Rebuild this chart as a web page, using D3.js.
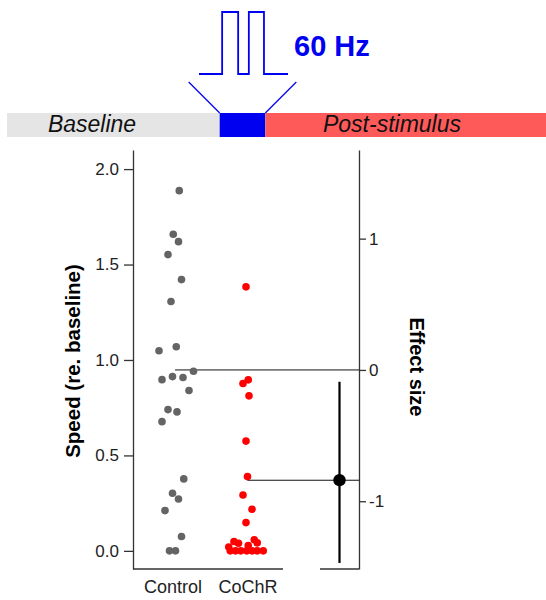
<!DOCTYPE html>
<meta charset="utf-8">
<style>
  body { margin: 0; background: #fff; }
  svg text { font-family: "Liberation Sans", Arial, sans-serif; }
</style>
<script src="https://cdn.jsdelivr.net/npm/d3@7"></script>
<div id="chart"></div>
<script>
// ---- data ----
var groups = ["Control", "CoChR"];

var controlSpeed  = [1.887, 1.659, 1.620, 1.552, 1.421, 1.306, 1.048, 1.069, 0.941, 0.897, 0.913, 0.908,
                     0.840, 0.740, 0.728, 0.677, 0.377, 0.302, 0.272, 0.211, 0.075, 0, 0];
var controlJitter = [0.09, 0.01, 0.08, -0.06, 0.12, -0.02, -0.18, 0.05, 0.28, -0.14, 0.00, 0.14,
                     0.22, -0.06, 0.06, -0.14, 0.15, 0.00, 0.08, -0.10, 0.12, -0.04, 0.04];

var cochrSpeed  = [1.383, 0.896, 0.877, 0.812, 0.575, 0.389, 0.293, 0.218, 0.148,
                   0.058, 0.049, 0.042, 0.040, 0.028, 0.020, 0, 0, 0, 0, 0, 0, 0];
var cochrJitter = [-0.02, 0.01, -0.06, 0.02, -0.02, 0.00, -0.06, 0.06, -0.02,
                   0.09, -0.18, 0.13, -0.12, 0.01, -0.25, -0.23, -0.16, -0.09, -0.01, 0.06, 0.13, 0.21];

var speedTicks  = [0, 0.5, 1.0, 1.5, 2.0];
var effectTicks = [1, 0, -1];

var controlLevel = 0.948;          // speed level that sits at effect size 0
var effectSize   = -0.84;
var effectCI     = [-1.47, -0.09];

var phaseNames  = ["Baseline", "", "Post-stimulus"];
var phaseBounds = [-4.66, 0, 1, 7.15];   // in stimulus lengths
var phaseColors = ["#e5e5e5", "#0000f0", "#ff5a5a"];
var pulses = [[0.26, 0.44], [0.56, 0.73]];

var W = 546, H = 600;
var svg = d3.select("#chart").append("svg")
    .attr("width", W).attr("height", H);

// ---- scales ----
var y = d3.scaleLinear().domain([-0.095, 2.1]).range([569, 150]);
var e = d3.scaleLinear().domain([-1.516, 1.675]).range([569, 150]);
var x = d3.scalePoint().domain(groups).range([135, 285]).padding(0.5);
var xr = d3.scalePoint().domain(["CoChR - Control"]).range([320, 359]).padding(0.5);
var t = d3.scaleLinear().domain([phaseBounds[0], phaseBounds[3]]).range([7, 546]);
var pt = d3.scaleLinear().domain([0, 1]).range([199, 288]);
var py = d3.scaleLinear().domain([0, 1]).range([74, 12]);

// ---- stimulus header ----
var phases = phaseNames.map(function(n, i) {
  return {name: n, a: phaseBounds[i], b: phaseBounds[i + 1], color: phaseColors[i]};
});
svg.selectAll("rect.phase").data(phases).enter().append("rect")
    .attr("class", "phase")
    .attr("x", function(d) { return t(d.a); })
    .attr("width", function(d) { return t(d.b) - t(d.a); })
    .attr("y", 113).attr("height", 24)
    .attr("fill", function(d) { return d.color; });
svg.selectAll("text.phase").data(phases.filter(function(d) { return d.name; })).enter().append("text")
    .attr("class", "phase")
    .attr("x", function(d, i) { return i == 0 ? 92 : 392; })
    .attr("y", 132)
    .attr("text-anchor", "middle")
    .style("font-size", "23px").style("font-style", "italic")
    .attr("fill", "#111")
    .text(function(d) { return d.name; });

// pulse train
var pulsePts = [[0, 0]];
pulses.forEach(function(p) {
  pulsePts.push([p[0], 0], [p[0], 1], [p[1], 1], [p[1], 0]);
});
pulsePts.push([1, 0]);
svg.append("path")
    .attr("d", d3.line().x(function(d) { return pt(d[0]); }).y(function(d) { return py(d[1]); })(pulsePts))
    .attr("fill", "none").attr("stroke", "#0000f0").attr("stroke-width", 1.8);

// funnel lines
[[t(0) - 31, t(0)], [t(1) + 31, t(1)]].forEach(function(s) {
  svg.append("line")
      .attr("x1", s[0]).attr("y1", 82).attr("x2", s[1]).attr("y2", 113)
      .attr("stroke", "#0000f0").attr("stroke-width", 1.3);
});

svg.append("text")
    .attr("x", 294).attr("y", 56)
    .style("font-size", "29px").style("font-weight", "bold")
    .attr("fill", "#0000f0")
    .text("60 Hz");

// ---- left axis (speed) ----
var yAxis = svg.append("g")
    .attr("transform", "translate(133,0)")
    .call(d3.axisLeft(y).tickValues(speedTicks).tickFormat(d3.format(".1f"))
      .tickSize(9).tickPadding(5).tickSizeOuter(0));
yAxis.selectAll("text").style("font-size", "17px").attr("fill", "#222");
yAxis.selectAll("line, path").attr("stroke", "#333").attr("stroke-width", 1.3);

svg.append("line")
    .attr("x1", 133).attr("x2", 283).attr("y1", 569).attr("y2", 569)
    .attr("stroke", "#333").attr("stroke-width", 1.3);

var xAxis = svg.append("g")
    .attr("transform", "translate(0,569)")
    .call(d3.axisBottom(x).tickSize(0).tickPadding(11));
xAxis.select(".domain").remove();
xAxis.selectAll("text").style("font-size", "18px").attr("fill", "#222");

svg.append("text")
    .attr("transform", "translate(80,361) rotate(-90)")
    .attr("text-anchor", "middle")
    .style("font-size", "20.5px").style("font-weight", "bold")
    .text("Speed (re. baseline)");

// ---- right axis (effect size) ----
var eAxis = svg.append("g")
    .attr("transform", "translate(359,0)")
    .call(d3.axisRight(e).tickValues(effectTicks).tickFormat(function(d) { return String(d); })
      .tickSize(7).tickPadding(3).tickSizeOuter(0));
eAxis.selectAll("text").style("font-size", "17px").attr("fill", "#222");
eAxis.selectAll("line, path").attr("stroke", "#333").attr("stroke-width", 1.3);

svg.append("line")
    .attr("x1", 320).attr("x2", 359).attr("y1", 569).attr("y2", 569)
    .attr("stroke", "#333").attr("stroke-width", 1.3);

svg.append("text")
    .attr("transform", "translate(410,367) rotate(90)")
    .attr("text-anchor", "middle")
    .style("font-size", "20px").style("font-weight", "bold")
    .text("Effect size");

// ---- reference lines from group levels to effect axis ----
var refs = [{g: "Control", v: 0, dx: 2.5}, {g: "CoChR", v: effectSize, dx: 0}];
svg.selectAll("line.ref").data(refs).enter().append("line")
    .attr("class", "ref")
    .attr("x1", function(d) { return x(d.g) + d.dx; })
    .attr("x2", 359)
    .attr("y1", function(d) { return e(d.v); })
    .attr("y2", function(d) { return e(d.v); })
    .attr("stroke", "#111").attr("stroke-width", 1);

// ---- dots ----
var pts = controlSpeed.map(function(v, i) { return {g: "Control", v: v, j: controlJitter[i]}; })
  .concat(cochrSpeed.map(function(v, i) { return {g: "CoChR", v: v, j: cochrJitter[i]}; }));
svg.selectAll("circle.pt").data(pts).enter().append("circle")
    .attr("class", "pt")
    .attr("cx", function(d) { return x(d.g) + d.j * x.step(); })
    .attr("cy", function(d) { return y(d.v); })
    .attr("r", 3.8)
    .attr("fill", function(d) { return d.g == "Control" ? "#646464" : "#ff0000"; });

// ---- effect estimate with CI ----
var xe = xr("CoChR - Control");
svg.append("line")
    .attr("x1", xe).attr("x2", xe)
    .attr("y1", e(effectCI[0])).attr("y2", e(effectCI[1]))
    .attr("stroke", "#000").attr("stroke-width", 2.2);
svg.append("circle")
    .attr("cx", xe).attr("cy", e(effectSize)).attr("r", 6.2)
    .attr("fill", "#000");
</script>
